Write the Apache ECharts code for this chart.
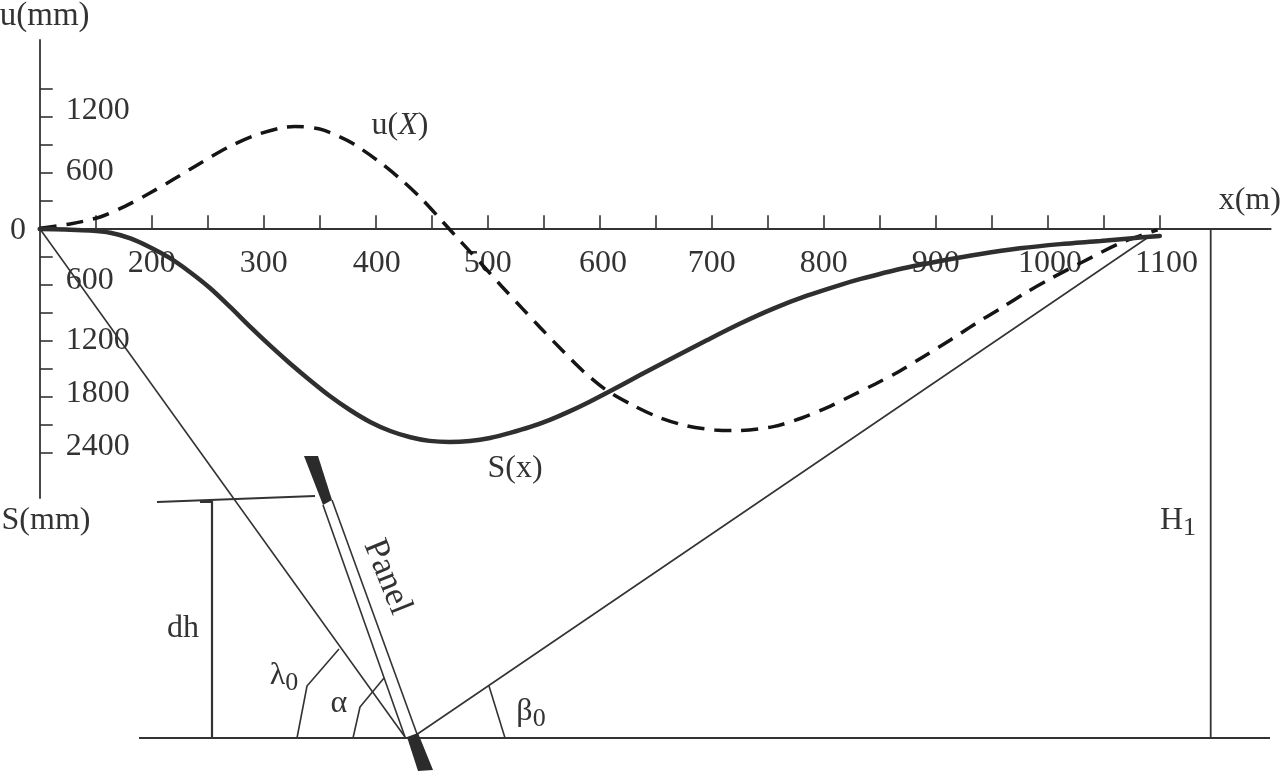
<!DOCTYPE html>
<html><head><meta charset="utf-8">
<style>html,body{margin:0;padding:0;background:#fff}#c{width:1280px;height:772px}</style>
<script src="https://cdn.jsdelivr.net/npm/echarts@6/dist/echarts.min.js"></script>
</head><body><div id="c"></div>
<script>
// Chart data (x in m, values in mm)
var sCurve = [[100,-8],[123,-14],[145,-24],[163,-48],[181,-108],[198,-200],[216,-318],[234,-468],[252,-640],[270,-843],[288,-1057],[306,-1261],[323,-1443],[341,-1625],[359,-1797],[377,-1947],[395,-2075],[413,-2172],[431,-2239],[448,-2278],[466,-2290],[484,-2279],[502,-2247],[520,-2193],[538,-2129],[556,-2050],[573,-1962],[591,-1858],[609,-1746],[636,-1573],[665,-1390],[696,-1197],[725,-1023],[755,-861],[785,-723],[815,-606],[833,-543],[868,-436],[904,-350],[940,-275],[975,-215],[1011,-170],[1047,-136],[1073,-109],[1100,-82]];
var uCurve = [[100,0],[127,46],[154,121],[176,235],[198,375],[221,535],[243,695],[267,860],[291,989],[315,1075],[328,1091],[350,1064],[368,980],[380,905],[401,732],[422,528],[441,314],[460,67],[477,-157],[496,-404],[513,-629],[531,-861],[547,-1066],[566,-1302],[585,-1529],[606,-1735],[629,-1893],[652,-2022],[678,-2118],[703,-2161],[722,-2167],[755,-2125],[781,-2030],[806,-1905],[822,-1810],[846,-1668],[868,-1529],[890,-1368],[913,-1197],[935,-1025],[957,-865],[980,-693],[1002,-543],[1031,-361],[1067,-147],[1098,-18]];
// Axis ticks and labels
var xTicks = [150,200,250,300,350,400,450,500,550,600,650,700,750,800,850,900,950,1000,1050,1100];
var xLabelAt = [200,300,401,500,603,700,800,900,1002,1106];
var xLabelText = ['200','300','400','500','600','700','800','900','1000','1100'];
var yTicks = [1500,1200,900,600,300,-300,-600,-900,-1200,-1500,-1800,-2100,-2400];
var yLabelAt = [1260,605,-565,-1206,-1775,-2340];
var yLabelText = ['1200','600','600','1200','1800','2400'];
// Schematic geometry, on its own hidden scale
var rayLeft = [[40,229],[405,737]];
var rayRight = [[416,735],[1150,236]];
var ground = [[139,738],[1270,738]];
var h1Line = [[1210.7,229],[1210.7,738]];
var dhLine = [[212,501],[212,738]];
var dhTop = [[157,502],[315,496]];
var dhBump = [[200,501.5],[212,501.5]];
var panelLeft = [[323,505],[405,737]];
var panelRight = [[332,500],[417,734]];
var lambdaArc = [[297,738],[307,686],[339,649]];
var alphaArc = [[353,738],[360,707],[384,678]];
var betaArc = [[505,738],[489,686]];
var panelBlocks = [[304,456,318,456,332,500,323,505],[407,737,418,733,433,770,418,771]];
var notes = [
  {at:[18,231],text:'0'},
  {at:[46,521],text:'S(mm)'},
  {at:[400,126],text:'u({i|X})'},
  {at:[515,469],text:'S(x)'},
  {at:[183,629],text:'dh'},
  {at:[284,676],text:'λ{s|0}'},
  {at:[339,704],text:'α'},
  {at:[531,712],text:'β{s|0}'},
  {at:[1178,521],text:'H{s|1}'},
  {at:[387,577],text:'Panel',rotate:-68,size:35}
];
var INK='#333333', FS=32, FF='"Liberation Serif","Times New Roman",serif';
var txt={fontFamily:FF,fontSize:FS,color:INK};
var geo=[rayLeft,rayRight,ground,h1Line,dhLine,dhTop,dhBump,panelLeft,panelRight,lambdaArc,alphaArc,betaArc];
var widths=[1.6,1.6,2,1.8,2.2,1.8,3,1.6,1.6,1.6,1.6,1.6];
var series=[
 {name:'S(x)',type:'line',data:sCurve,smooth:0.3,showSymbol:false,lineStyle:{color:'#2f2f2f',width:4.5,cap:'round'},z:5},
 {name:'u(X)',type:'line',data:uCurve,smooth:0.3,showSymbol:false,lineStyle:{color:'#151515',width:3.5,type:[17,10]},z:4}
];
geo.forEach(function(d,i){series.push({type:'line',xAxisIndex:1,yAxisIndex:1,data:d,showSymbol:false,clip:false,lineStyle:{color:INK,width:widths[i]},z:3});});
series.push({type:'custom',xAxisIndex:1,yAxisIndex:1,data:panelBlocks,clip:false,z:6,
 renderItem:function(p,api){var pts=[];for(var i=0;i<8;i+=2){pts.push(api.coord([api.value(i),api.value(i+1)]));}
  return {type:'polygon',shape:{points:pts},style:{fill:'#2b2b2b'}};}});
series.push({type:'scatter',xAxisIndex:1,yAxisIndex:1,symbolSize:1,itemStyle:{color:'transparent',opacity:1},z:7,
 data:notes.map(function(n){return {value:n.at,label:{show:true,opacity:1,position:'inside',align:'center',verticalAlign:'middle',formatter:n.text,rotate:n.rotate||0,
  fontFamily:FF,fontSize:n.size||FS,color:INK,rich:{s:{fontFamily:FF,fontSize:26,color:INK,padding:[14,0,0,0]},i:{fontFamily:FF,fontSize:FS,fontStyle:'italic',color:INK}}}};})});
var chart=echarts.init(document.getElementById('c'),null,{renderer:'canvas'});
chart.setOption({
 animation:false,backgroundColor:'#fff',tooltip:{show:false},legend:{show:false},
 grid:[{left:39.7,right:9.3,top:40,bottom:274,outerBoundsMode:'none'},{left:0,right:0,top:0,bottom:0,outerBoundsMode:'none'}],
 xAxis:[
  {type:'value',position:'bottom',offset:-269.7,min:100,max:1199,gridIndex:0,name:'x(m)',nameLocation:'end',nameGap:-52,nameTextStyle:Object.assign({},txt,{verticalAlign:'bottom',padding:[0,0,12,0]}),
   splitLine:{show:false},axisLine:{onZero:false,lineStyle:{color:INK,width:1.8}},
   axisTick:{inside:true,length:13,customValues:xTicks,lineStyle:{color:INK,width:1.6}},
   axisLabel:Object.assign({},txt,{margin:19,customValues:xLabelAt,formatter:function(v){return xLabelText[xLabelAt.indexOf(v)];}})},
  {type:'value',min:0,max:1280,gridIndex:1,show:false}
 ],
 yAxis:[
  {type:'value',min:-2890,max:2017,gridIndex:0,name:'u(mm)',nameLocation:'end',nameGap:7,nameTextStyle:Object.assign({},txt,{fontSize:33,padding:[0,0,0,10]}),
   splitLine:{show:false},axisLine:{onZero:false,lineStyle:{color:INK,width:1.8}},
   axisTick:{inside:true,length:13,customValues:yTicks,lineStyle:{color:INK,width:1.6}},
   axisLabel:Object.assign({},txt,{inside:true,margin:26,customValues:yLabelAt,formatter:function(v){return yLabelText[yLabelAt.indexOf(v)];}})},
  {type:'value',min:0,max:772,inverse:true,gridIndex:1,show:false}
 ],
 series:series
});
</script></body></html>
